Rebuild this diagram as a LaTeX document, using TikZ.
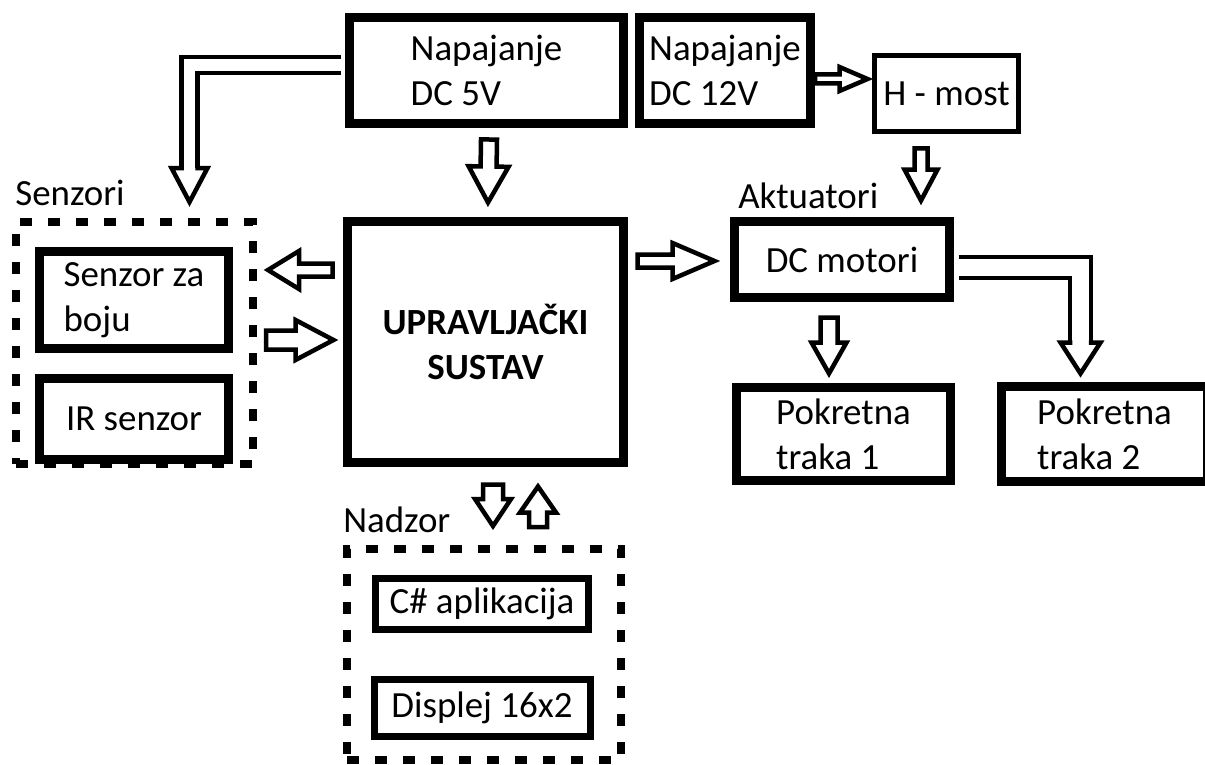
\documentclass[tikz,border=0pt]{standalone}
\usepackage{fontspec}
\setmainfont{Carlito}
\usetikzlibrary{calc,positioning}
\tikzset{
  BX/.style={rectangle,draw,line width=0.18cm,align=left,inner sep=2pt,
             font=\fontsize{21}{25.6}\selectfont},
  TB/.style={BX,line width=0.1cm},
  SB/.style={BX,line width=0.14cm},
  DB/.style={rectangle,draw,line width=0.16cm,dash pattern=on 0.24cm off 0.32cm},
  LB/.style={font=\fontsize{21}{25.6}\selectfont,inner sep=0pt,anchor=base west},
  barr/.style={line width=0.09cm,line join=miter,fill=white},
  dshaft/.style={line width=0.09cm,double,line join=miter},
  bhead/.style={line width=0.09cm,line join=miter,line cap=rect}
}
% hollow block arrow: tail, tip, shaft half width, head half width, head length
\newcommand{\blockarr}[5]{%
  \coordinate (bt) at (#1);
  \coordinate (bh) at (#2);
  \coordinate (bb) at ($(bh)!#5!(bt)$);
  \draw[barr] ($(bt)!#3!90:(bh)$) -- ($(bb)!#3!90:(bh)$) -- ($(bb)!#4!90:(bh)$) -- (bh)
    -- ($(bb)!#4!-90:(bh)$) -- ($(bb)!#3!-90:(bh)$) -- ($(bt)!#3!-90:(bh)$) -- cycle;
}

\begin{document}
\begin{tikzpicture}
  \useasboundingbox (0,0) rectangle (24.1,-15.3);

  \node[BX,minimum width=5.48cm,minimum height=2.12cm] (p5) at (9.73,-1.41) {Napajanje\\DC 5V};
  \node[BX,minimum width=3.42cm,minimum height=2.12cm] (p12) at (14.5,-1.41) {Napajanje\\DC 12V};
  \node[TB,minimum width=2.88cm,minimum height=1.52cm] (hmost) at (18.93,-1.87) {H - most};
  \node[BX,minimum width=5.52cm,minimum height=4.82cm,font=\fontsize{21}{25.6}\selectfont\bfseries,
        align=center] (upr) at (9.71,-6.84) {UPRAVLJAČKI\\SUSTAV};
  \node[BX,minimum width=4.3cm,minimum height=1.52cm] (dcm) at (16.84,-5.19) {DC motori};
  \node[BX,minimum width=4.28cm,minimum height=1.86cm] (pt1) at (16.87,-8.68) {Pokretna\\traka 1};
  \node[BX,minimum width=4.12cm,minimum height=1.9cm,right=0.84cm of pt1] (pt2) {Pokretna\\traka 2};

  \node[DB,minimum width=4.74cm,minimum height=4.84cm] (sen) at (2.69,-6.86) {};
  \node[BX,minimum width=3.78cm,minimum height=1.94cm] (boja) at (2.68,-6.0) {Senzor za\\boju};
  \node[BX,minimum width=3.78cm,minimum height=1.62cm,below=0.42cm of boja] (ir) {IR senzor};

  \node[DB,minimum width=5.48cm,minimum height=4.22cm] (nad) at (9.68,-13.09) {};
  \node[SB,minimum width=4.26cm,minimum height=1.02cm] (csh) at (9.64,-12.08) {C\# aplikacija};
  \node[SB,minimum width=4.32cm,minimum height=1.14cm,below=0.86cm of csh] (disp) {Displej 16x2};

  \node[LB] (lsen) at (0.3,-4.1) {Senzori};
  \node[LB] (lakt) at (14.76,-4.16) {Aktuatori};
  \node[LB] (lnad) at (6.86,-10.64) {Nadzor};

  \blockarr{$(p5.south)+(0.05,-0.23)$}{$(upr.north)+(0.05,0.29)$}{0.16cm}{0.4cm}{0.72cm}
  \blockarr{$(p12.east)+(0,-0.17)$}{$(p12.east -| hmost.west)+(-0.09,-0.17)$}{0.09cm}{0.24cm}{0.56cm}
  \blockarr{$(hmost.south)+(-0.51,-0.29)$}{$(hmost.south |- dcm.north)+(-0.51,0.33)$}{0.13cm}{0.33cm}{0.62cm}
  \blockarr{$(upr.east |- dcm.west)+(0.19,-0.03)$}{$(dcm.west)+(-0.31,-0.03)$}{0.13cm}{0.36cm}{0.84cm}
  \blockarr{$(upr.west)+(-0.21,1.44)$}{$(upr.west -| sen.east)+(0.22,1.44)$}{0.13cm}{0.38cm}{0.62cm}
  \blockarr{$(upr.west -| sen.east)+(0.18,0.04)$}{$(upr.west)+(-0.19,0.04)$}{0.19cm}{0.4cm}{0.76cm}
  \blockarr{$(upr.south)+(0.15,-0.35)$}{$(nad.north)+(0.18,0.38)$}{0.2cm}{0.36cm}{0.54cm}
  \blockarr{$(nad.north)+(1.08,0.36)$}{$(upr.south)+(1.05,-0.39)$}{0.18cm}{0.36cm}{0.52cm}
  \blockarr{$(dcm.south)+(-0.26,-0.31)$}{$(pt1.north)+(-0.29,0.19)$}{0.17cm}{0.35cm}{0.62cm}

  \coordinate (e1s) at ($(p5.west)+(-0.09,0.11)$);
  \coordinate (e1h) at ($(sen.north)+(1.10,0.32)$);
  \coordinate (e1b) at ($(e1h)+(0,0.68)$);
  \draw[dshaft,double distance=0.23cm] (e1s) -| (e1b);
  \draw[bhead] ($(e1b)+(0.16,0)$) -- ($(e1b)+(0.36,0)$) -- (e1h) -- ($(e1b)+(-0.36,0)$) -- ($(e1b)+(-0.16,0)$);

  \coordinate (e2s) at ($(dcm.east)+(0.09,-0.16)$);
  \coordinate (e2h) at ($(pt2.north)+(-0.48,0.17)$);
  \coordinate (e2b) at ($(e2h)+(0,0.62)$);
  \draw[dshaft,double distance=0.33cm] (e2s) -| (e2b);
  \draw[bhead] ($(e2b)+(0.21,0)$) -- ($(e2b)+(0.4,0)$) -- (e2h) -- ($(e2b)+(-0.4,0)$) -- ($(e2b)+(-0.21,0)$);
\end{tikzpicture}
\end{document}
